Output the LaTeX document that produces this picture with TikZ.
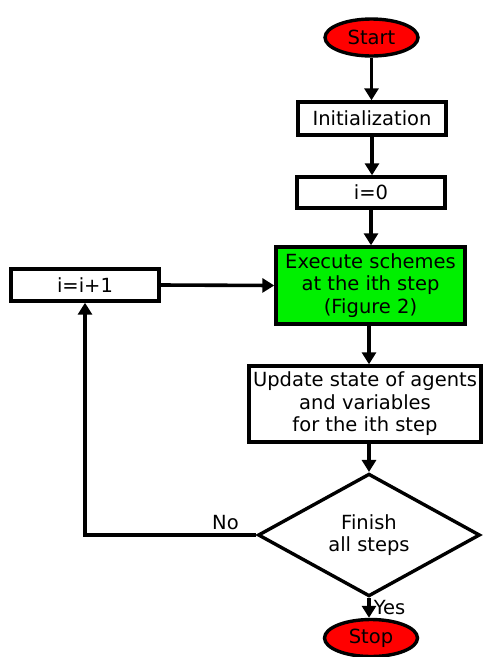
\documentclass[tikz,border=0pt]{standalone}
\usepackage{fontspec}
\setmainfont{DejaVu Sans}
\definecolor{fRed}{HTML}{FF0000}
\definecolor{fGreen}{HTML}{00F000}
\usetikzlibrary{arrows.meta, shapes.geometric}

\begin{document}
\begin{tikzpicture}[x=1pt, y=-1pt,
    every node/.style={font=\fontsize{19.5}{22.5}\selectfont, align=center, inner sep=0pt},
    terminal/.style={ellipse, draw, line width=3.4pt, fill=fRed, minimum width=93pt, minimum height=37pt},
    stepbox/.style={rectangle, draw, line width=3.4pt, fill=white},
    decision/.style={diamond, draw, line width=3.4pt, fill=white, minimum width=222pt, minimum height=86pt},
    flow/.style={line width=3.6pt, -{Triangle[length=12pt, width=14pt]}}]
  \useasboundingbox (0,0) rectangle (483,657);
  \node[terminal] (start) at (371.5,37.5) {Start};
  \node[stepbox, minimum width=148pt, minimum height=33pt] (init) at (372,118.5) {Initialization};
  \node[stepbox, minimum width=148pt, minimum height=31pt] (izero) at (371,192.5) {i=0};
  \node[stepbox, fill=fGreen, minimum width=189pt, minimum height=77pt] (exec) at (370.5,285.5)
    {Execute schemes\\at the ith step\\(Figure 2)};
  \node[stepbox, minimum width=148pt, minimum height=32pt] (incr) at (85,285) {i=i+1};
  \node[stepbox, minimum width=232pt, minimum height=76pt] (update) at (365,404)
    {Update state of agents\\and variables\\for the ith step};
  \node[decision] (finish) at (369,535) {Finish\\all steps};
  \node[terminal] (stop) at (371,638) {Stop};
  % main column
  \foreach \a/\b in {start/init, init/izero, izero/exec}{
    \draw[flow] (\a.south) -- (\a.south |- \b.north);}
  \draw[flow] (exec.south -| finish.north) -- (update.north -| finish.north);
  \draw[flow] (update.south -| finish.north) -- (finish.north);
  \draw[flow] (finish.south) -- (stop.north -| finish.south)
    node[midway, anchor=west, xshift=3pt] (yes) {Yes};
  % loop back
  \draw[flow] (finish.west) -- node[pos=0.18, anchor=south, yshift=3pt] (no) {No}
    (finish.west -| incr.south) -- (incr.south);
  \draw[flow] (incr.east) -- (exec.west);
\end{tikzpicture}
\end{document}
